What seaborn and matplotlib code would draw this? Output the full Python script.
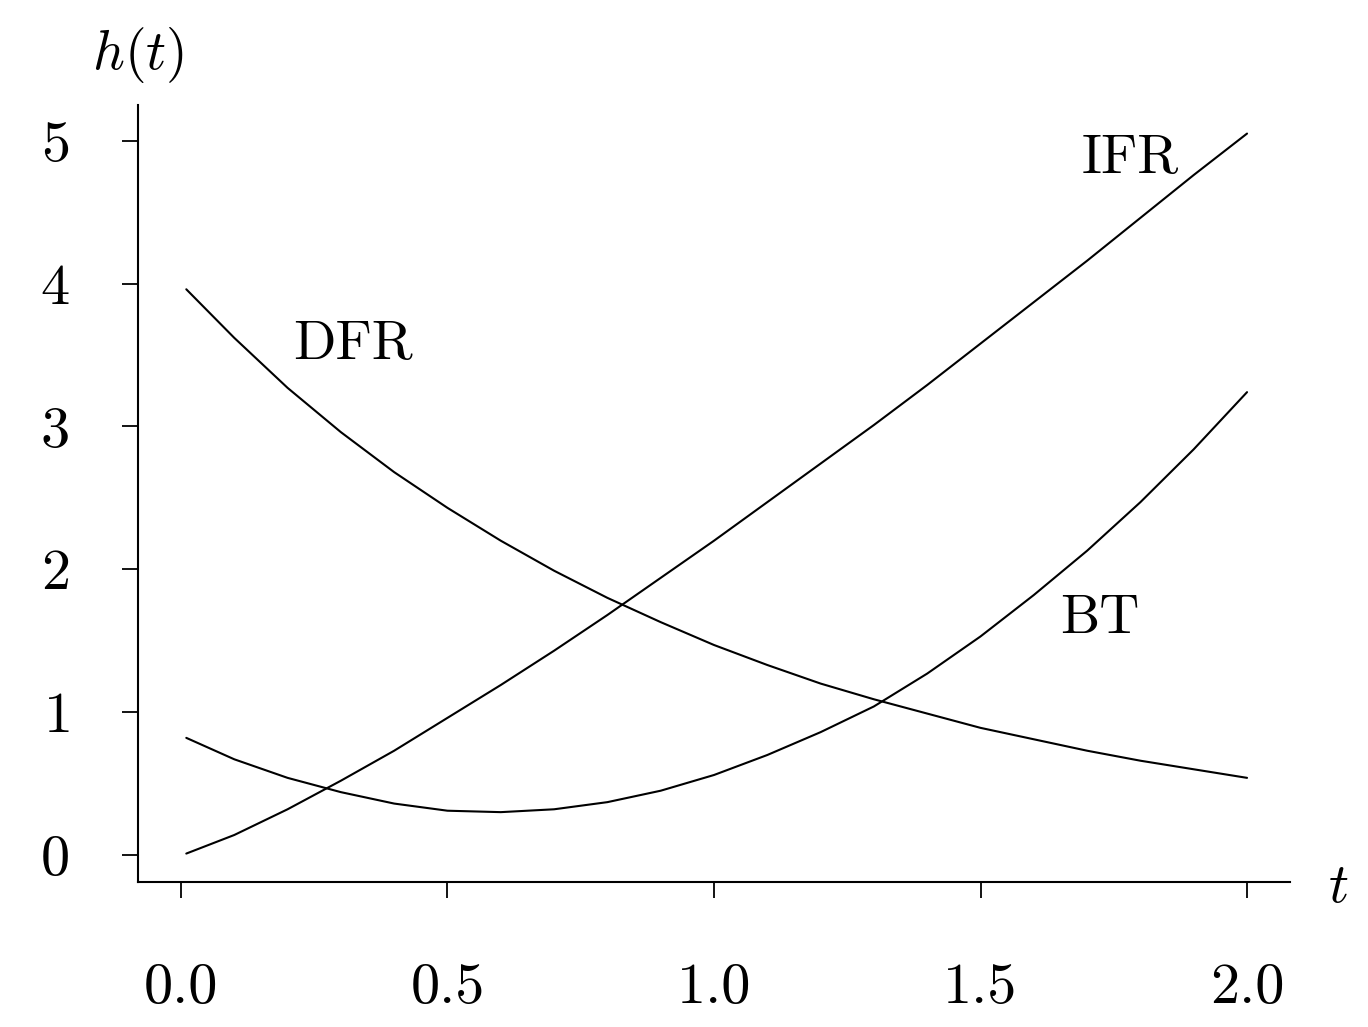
import pandas as pd
import matplotlib
matplotlib.use("Agg")
import matplotlib.pyplot as plt
import seaborn as sns

# --- Data ---
t_values = [0.01, 0.1, 0.2, 0.3, 0.4, 0.5, 0.6, 0.7, 0.8, 0.9, 1.0,
            1.1, 1.2, 1.3, 1.4, 1.5, 1.6, 1.7, 1.8, 1.9, 2.0]
dfr_h = [3.96, 3.62, 3.27, 2.96, 2.68, 2.43, 2.20, 1.99, 1.80, 1.63, 1.47,
         1.33, 1.20, 1.09, 0.99, 0.89, 0.81, 0.73, 0.66, 0.60, 0.54]
ifr_h = [0.01, 0.14, 0.32, 0.52, 0.73, 0.96, 1.19, 1.43, 1.68, 1.94, 2.20,
         2.47, 2.74, 3.01, 3.29, 3.58, 3.87, 4.16, 4.46, 4.76, 5.05]
bt_h = [0.82, 0.67, 0.54, 0.44, 0.36, 0.31, 0.30, 0.32, 0.37, 0.45, 0.56,
        0.70, 0.86, 1.04, 1.27, 1.53, 1.82, 2.13, 2.47, 2.84, 3.24]

curve_names = ['DFR', 'IFR', 'BT']
label_t = [0.323, 1.78, 1.724]
label_h = [3.57, 4.87, 1.65]

x_ticks = [0.0, 0.5, 1.0, 1.5, 2.0]
x_tick_labels = ['0.0', '0.5', '1.0', '1.5', '2.0']
y_ticks = [0, 1, 2, 3, 4, 5]

df = pd.concat([
    pd.DataFrame({'t': t_values, 'h': vals, 'curve': name})
    for name, vals in zip(curve_names, [dfr_h, ifr_h, bt_h])
], ignore_index=True)

# --- Style ---
sns.set_style('ticks')
plt.rcParams['font.family'] = ['cmr10', 'DejaVu Serif']
plt.rcParams['mathtext.fontset'] = 'cm'
plt.rcParams['axes.formatter.use_mathtext'] = True
plt.rcParams['text.color'] = 'black'

fig = plt.figure(figsize=(13.68, 10.27), dpi=100)
ax = fig.add_axes([138 / 1368, 1 - 882 / 1027, (1290 - 138) / 1368, (882 - 105) / 1027])

sns.lineplot(data=df, x='t', y='h', units='curve', estimator=None,
             color='black', linewidth=1.5, ax=ax, legend=False)

ax.set_xlim(-0.0806, 2.0806)
ax.set_ylim(-0.189, 5.25)
ax.set_xticks(x_ticks)
ax.set_xticklabels(x_tick_labels)
ax.set_yticks(y_ticks)
ax.set_xlabel('')
ax.set_ylabel('')

sns.despine(ax=ax)
for side in ['left', 'bottom']:
    ax.spines[side].set_linewidth(1.5)
    ax.spines[side].set_color('black')

ax.tick_params(axis='both', colors='black', labelsize=42, length=11.5, width=1.3)
ax.tick_params(axis='x', pad=47)
ax.tick_params(axis='y', pad=38)

for name, lt, lh in zip(curve_names, label_t, label_h):
    ax.text(lt, lh, name, fontsize=40, color='black', ha='center', va='center')

ax.text(-0.0806, 5.60, '$h(t)$', fontsize=40, color='black',
        ha='center', va='center', clip_on=False)
ax.text(2.171, -0.231, '$t$', fontsize=40, color='black',
        ha='center', va='center', clip_on=False)

fig.savefig('out.png', dpi=100)
